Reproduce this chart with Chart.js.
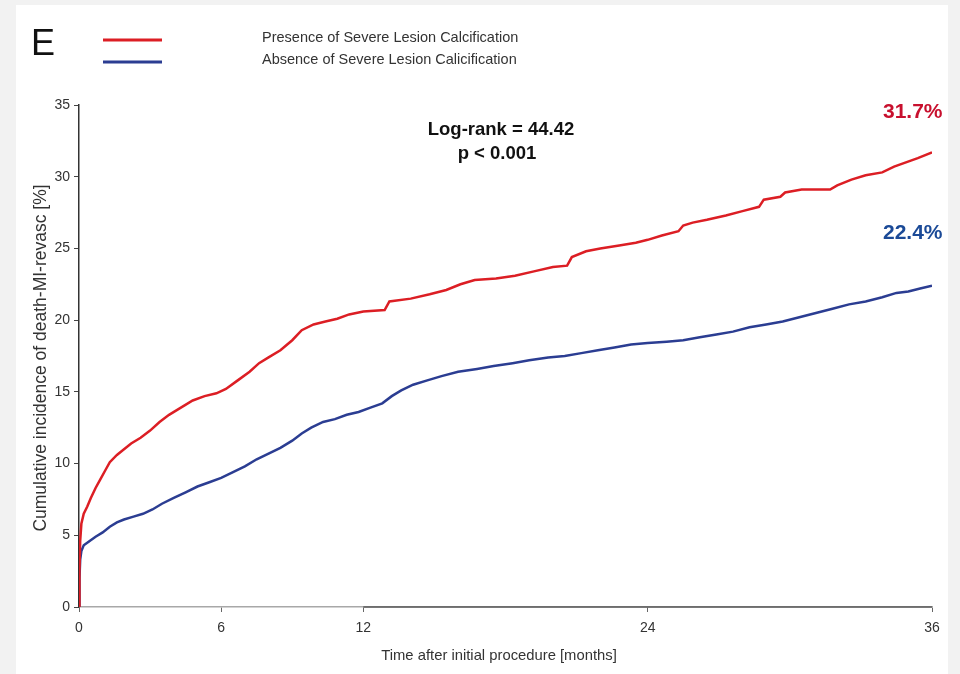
<!DOCTYPE html>
<html>
<head>
<meta charset="utf-8">
<script src="https://cdn.jsdelivr.net/npm/chart.js@4/dist/chart.umd.min.js"></script>
<style>
  html, body { margin: 0; padding: 0; background: #f2f2f2; width: 960px; height: 674px; overflow: hidden; }
  #panel { position: absolute; left: 16px; top: 5px; width: 932px; height: 669px; background: #ffffff; }
  #wrap { position: absolute; left: 0; top: 0; width: 960px; height: 674px; }
  #edge { position: absolute; left: 948px; top: 0; width: 12px; height: 674px; background: #f2f2f2; }
</style>
</head>
<body>
<div id="panel"></div>
<div id="wrap"><canvas id="km" width="960" height="674"></canvas></div>
<div id="edge"></div>
<script>
// Kaplan-Meier style cumulative incidence (death / MI / revascularisation), %
const seriesLabels = [
  'Presence of Severe Lesion Calcification',
  'Absence of Severe Lesion Calicification'
];

const presenceMonths = [0, 0.02, 0.05, 0.1, 0.2, 0.35, 0.5, 0.7, 0.9, 1.1, 1.3, 1.6, 1.9, 2.2, 2.6,
  3.0, 3.4, 3.8, 4.3, 4.8, 5.3, 5.8, 6.2, 6.7, 7.2, 7.6, 8.0, 8.5, 9.0, 9.4, 9.9, 10.4, 10.9,
  11.4, 12.0, 12.9, 13.1, 14.0, 14.8, 15.5, 16.1, 16.7, 17.6, 18.4, 19.2, 20.0, 20.6, 20.8,
  21.4, 22.0, 22.8, 23.5, 24.0, 24.6, 25.3, 25.5, 25.9, 26.5, 27.3, 28.0, 28.7, 28.9, 29.6,
  29.8, 30.5, 31.7, 32.0, 32.6, 33.2, 33.9, 34.4, 34.9, 35.4, 36.0];
const presenceIncidence = [0, 2.5, 4.6, 5.8, 6.5, 7.0, 7.6, 8.3, 8.9, 9.5, 10.1, 10.6, 11.0, 11.4, 11.8,
  12.3, 12.9, 13.4, 13.9, 14.4, 14.7, 14.9, 15.2, 15.8, 16.4, 17.0, 17.4, 17.9, 18.6, 19.3, 19.7, 19.9, 20.1,
  20.4, 20.6, 20.7, 21.3, 21.5, 21.8, 22.1, 22.5, 22.8, 22.9, 23.1, 23.4, 23.7, 23.8, 24.4,
  24.8, 25.0, 25.2, 25.4, 25.6, 25.9, 26.2, 26.6, 26.8, 27.0, 27.3, 27.6, 27.9, 28.4, 28.6,
  28.9, 29.1, 29.1, 29.4, 29.8, 30.1, 30.3, 30.7, 31.0, 31.3, 31.7];

const absenceMonths = [0, 0.02, 0.05, 0.1, 0.2, 0.45, 0.7, 1.0, 1.3, 1.6, 1.9, 2.3, 2.7, 3.1, 3.5,
  4.0, 4.5, 5.0, 5.5, 6.0, 6.5, 7.0, 7.5, 8.0, 8.5, 9.0, 9.4, 9.8, 10.3, 10.8, 11.3, 11.8,
  12.3, 12.8, 13.2, 13.6, 14.1, 14.7, 15.3, 16.0, 16.8, 17.5, 18.3, 19.0, 19.8, 20.5, 21.2,
  21.9, 22.6, 23.3, 24.0, 24.8, 25.5, 26.2, 26.9, 27.6, 28.3, 29.0, 29.7, 30.4, 31.1, 31.8,
  32.5, 33.2, 33.9, 34.5, 35.0, 35.5, 36.0];
const absenceIncidence = [0, 2.0, 3.3, 3.9, 4.3, 4.6, 4.9, 5.2, 5.6, 5.9, 6.1, 6.3, 6.5, 6.8, 7.2,
  7.6, 8.0, 8.4, 8.7, 9.0, 9.4, 9.8, 10.3, 10.7, 11.1, 11.6, 12.1, 12.5, 12.9, 13.1, 13.4, 13.6,
  13.9, 14.2, 14.7, 15.1, 15.5, 15.8, 16.1, 16.4, 16.6, 16.8, 17.0, 17.2, 17.4, 17.5, 17.7,
  17.9, 18.1, 18.3, 18.4, 18.5, 18.6, 18.8, 19.0, 19.2, 19.5, 19.7, 19.9, 20.2, 20.5, 20.8,
  21.1, 21.3, 21.6, 21.9, 22.0, 22.2, 22.4];

const monthTicks = [0, 6, 12, 24, 36];
const incidenceTicks = [0, 5, 10, 15, 20, 25, 30, 35];

const statLines = ['Log-rank = 44.42', 'p < 0.001'];

const lineColors = ['#dc1e24', '#2b3d92'];
const labelColors = ['#c8102e', '#1b4a97'];
const FONT = '"Liberation Sans", Arial, sans-serif';

const toPoints = (xs, ys) => xs.map((m, i) => ({ x: m, y: ys[i] }));

// darker stretch of the time axis from month 12 onward
const axisShade = {
  id: 'axisShade',
  afterDraw(chart) {
    const { ctx, scales: { x, y } } = chart;
    ctx.save();
    ctx.strokeStyle = '#5a5a5a';
    ctx.lineWidth = 1.5;
    ctx.beginPath();
    ctx.moveTo(x.getPixelForValue(12), y.getPixelForValue(0));
    ctx.lineTo(x.getPixelForValue(36), y.getPixelForValue(0));
    ctx.stroke();
    ctx.restore();
  }
};

// Letter, legend, statistics box and end-of-follow-up percentages
const decorations = {
  id: 'decorations',
  afterDraw(chart) {
    const { ctx } = chart;
    ctx.save();

    ctx.fillStyle = '#111';
    ctx.font = '36px ' + FONT;
    ctx.textBaseline = 'alphabetic';
    ctx.textAlign = 'left';
    ctx.fillText('E', 31, 55);

    chart.data.datasets.forEach((ds, i) => {
      const ly = 40 + i * 22;
      ctx.strokeStyle = ds.borderColor;
      ctx.lineWidth = 3;
      ctx.beginPath();
      ctx.moveTo(103, ly);
      ctx.lineTo(162, ly);
      ctx.stroke();
      ctx.fillStyle = '#333';
      ctx.font = '14.5px ' + FONT;
      ctx.textBaseline = 'middle';
      ctx.fillText(ds.label, 262, ly - 2);
    });

    ctx.fillStyle = '#111';
    ctx.font = 'bold 18.5px ' + FONT;
    ctx.textAlign = 'center';
    ctx.textBaseline = 'middle';
    ctx.fillText(statLines[0], 501, 130);
    ctx.fillText(statLines[1], 497, 154);

    // axis titles
    ctx.fillStyle = '#333';
    ctx.font = '14.8px ' + FONT;
    ctx.fillText('Time after initial procedure [months]', 499, 656);
    ctx.save();
    ctx.translate(41, 358);
    ctx.rotate(-Math.PI / 2);
    ctx.font = '17.5px ' + FONT;
    ctx.fillText('Cumulative incidence of death-MI-revasc [%]', 0, 0);
    ctx.restore();

    // final cumulative incidence of each group
    const labelY = [112, 233];
    chart.data.datasets.forEach((ds, i) => {
      const last = ds.data[ds.data.length - 1].y;
      ctx.fillStyle = labelColors[i];
      ctx.font = 'bold 21px ' + FONT;
      ctx.textAlign = 'left';
      ctx.textBaseline = 'middle';
      ctx.fillText(last.toFixed(1) + '%', 883, labelY[i]);
    });

    ctx.restore();
  }
};

new Chart(document.getElementById('km'), {
  type: 'line',
  data: {
    datasets: [
      { label: seriesLabels[0], data: toPoints(presenceMonths, presenceIncidence),
        borderColor: lineColors[0], borderWidth: 2.5, pointRadius: 0, tension: 0, fill: false },
      { label: seriesLabels[1], data: toPoints(absenceMonths, absenceIncidence),
        borderColor: lineColors[1], borderWidth: 2.5, pointRadius: 0, tension: 0, fill: false }
    ]
  },
  options: {
    responsive: false,
    animation: false,
    events: [],
    layout: { padding: { left: 0, right: 28, top: 105, bottom: 0 } },
    plugins: { legend: { display: false }, tooltip: { enabled: false } },
    scales: {
      x: {
        type: 'linear', min: 0, max: 36,
        afterBuildTicks: axis => { axis.ticks = monthTicks.map(v => ({ value: v })); },
        afterFit: axis => { axis.height = 67; },
        grid: { display: true, drawOnChartArea: false, drawTicks: true, tickLength: 5, color: '#666' },
        border: { display: true, color: '#a8a8a8', width: 1.5 },
        ticks: { color: '#333', font: { family: FONT, size: 14 }, padding: 8, maxRotation: 0 }
      },
      y: {
        type: 'linear', min: 0, max: 35,
        afterBuildTicks: axis => { axis.ticks = incidenceTicks.map(v => ({ value: v })); },
        afterFit: axis => { axis.width = 79; },
        grid: { display: true, drawOnChartArea: false, drawTicks: true, tickLength: 5, color: '#444' },
        border: { display: true, color: '#333', width: 1.5 },
        ticks: { color: '#333', font: { family: FONT, size: 14 }, padding: 4 }
      }
    }
  },
  plugins: [axisShade, decorations]
});
</script>
</body>
</html>
